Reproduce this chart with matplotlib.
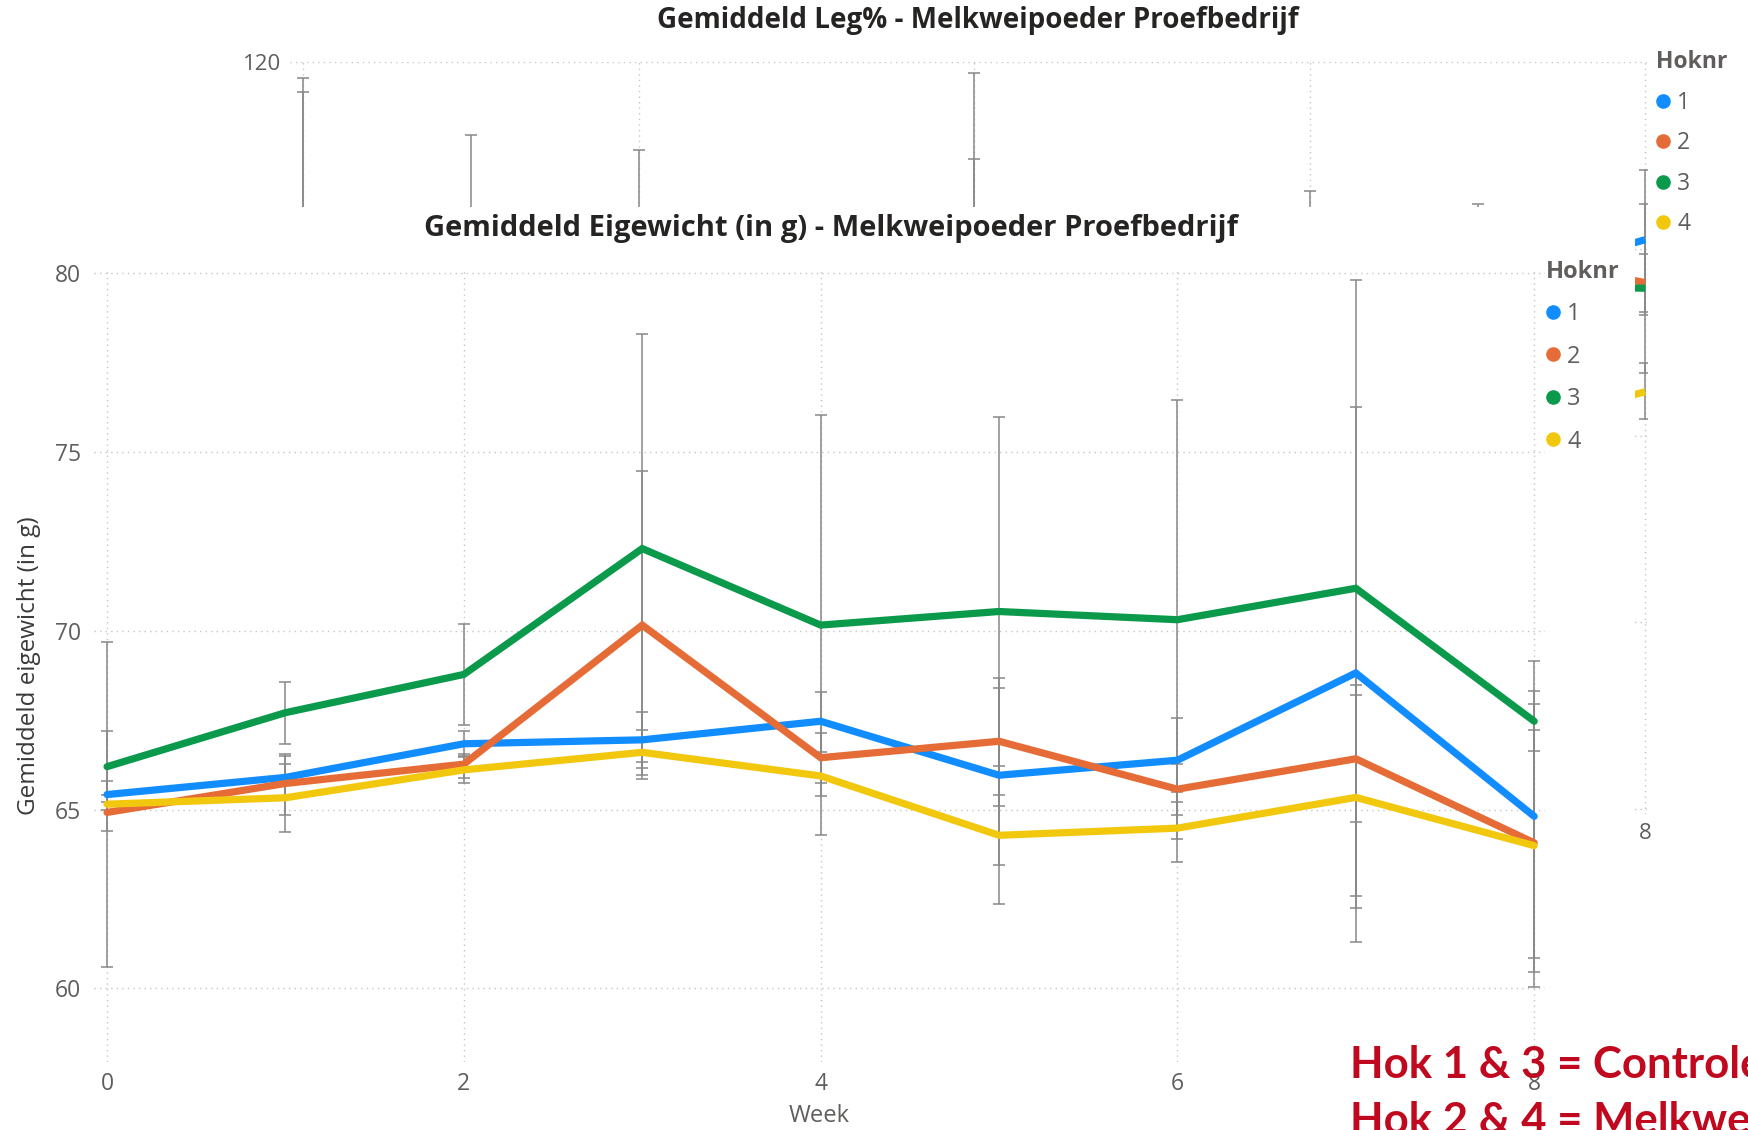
import matplotlib
matplotlib.use("Agg")
import matplotlib.pyplot as plt
from matplotlib.lines import Line2D
import numpy as np

# ---------------- data: main chart (Eigewicht) ----------------
weeks = [0, 1, 2, 3, 4, 5, 6, 7, 8]
series_names = ["1", "2", "3", "4"]
hok1 = [65.42, 65.90, 66.84, 66.95, 67.47, 65.96, 66.38, 68.82, 64.81]
hok2 = [64.92, 65.73, 66.27, 70.16, 66.45, 66.91, 65.57, 66.42, 64.07]
hok3 = [66.20, 67.71, 68.78, 72.30, 70.16, 70.54, 70.31, 71.19, 67.47]
hok4 = [65.15, 65.33, 66.11, 66.60, 65.94, 64.28, 64.48, 65.34, 63.99]

hok1_low = [65.00, 65.30, 66.50, 66.16, 66.61, 63.46, 65.20, 61.30, 60.45]
hok1_up = [65.80, 66.50, 67.20, 67.74, 68.28, 68.67, 67.56, 76.27, 69.16]
hok2_low = [64.40, 64.85, 65.87, 65.85, 65.75, 65.42, 64.84, 64.65, 60.85]
hok2_up = [65.40, 66.55, 66.55, 74.47, 67.15, 68.40, 66.27, 68.21, 67.22]
hok3_low = [65.20, 66.82, 67.36, 66.34, 64.29, 65.10, 64.17, 62.58, 66.63]
hok3_up = [67.20, 68.56, 70.20, 78.30, 76.03, 75.99, 76.45, 79.80, 68.31]
hok4_low = [60.60, 64.38, 65.73, 65.98, 65.37, 62.35, 63.53, 62.25, 60.04]
hok4_up = [69.70, 66.27, 66.48, 67.22, 66.51, 66.21, 65.50, 68.48, 67.94]

y_ticks = [60, 65, 70, 75, 80]
x_ticks = [0, 2, 4, 6, 8]

# ---------------- data: background chart (Leg%), visible parts only ----------------
bg_weeks_end = [7, 8]
bg_hok1 = [96.0, 101.0]
bg_hok2 = [99.7, 96.4]
bg_hok3 = [96.1, 95.8]
bg_hok4 = [80.0, 84.7]
bg_w8_low = [93.3, 92.9, 86.7, 81.8]
bg_w8_up = [108.5, 99.5, 104.8, 87.8]
bg_cap_weeks = [0, 0, 1, 2, 4, 4, 6, 7]
bg_cap_vals = [118.3, 116.8, 112.2, 110.6, 118.9, 109.6, 106.2, 104.8]
bg_y_ticks = [40, 60, 80, 100, 120]

colors = ["#118DFF", "#E66C37", "#0B9A4B", "#F2C80F"]
GRAY_TXT = "#605E5C"
ERR = "#8A8886"
GRID = "#C8C6C4"

W, H = 1568.0, 1013.0
def fx(x): return x / W
def fy(y): return 1 - y / H

fig = plt.figure(figsize=(17.49, 11.30), dpi=100)
fig.patch.set_facecolor("white")
plt.rcParams["font.family"] = ["Open Sans", "DejaVu Sans"]

# ---------------- background chart ----------------
bx0, bx1, by0, by1 = 260, 1476.5, 56, 730
ax_bg = fig.add_axes([fx(bx0), fy(by1), fx(bx1) - fx(bx0), fy(by0) - fy(by1)])
ax_bg.set_xlim(-0.08, 8.01)
ax_bg.set_ylim(39.4, 120)
ax_bg.set_xticks(x_ticks)
ax_bg.set_yticks(bg_y_ticks)
ax_bg.tick_params(length=0, labelsize=16, colors=GRAY_TXT, pad=6)
for s in ax_bg.spines.values():
    s.set_visible(False)
ax_bg.grid(True, ls=(0, (1, 3)), color=GRID, lw=1)
ax_bg.vlines(bg_cap_weeks, 40, bg_cap_vals, color=ERR, lw=1.1, zorder=2)
ax_bg.plot(bg_cap_weeks, bg_cap_vals, ls="none", marker="_", ms=8, mew=1.1, color=ERR, zorder=2)
bg_mid = [bg_hok1[-1], bg_hok2[-1], bg_hok3[-1], bg_hok4[-1]]
for i in range(4):
    ax_bg.errorbar([8], [bg_mid[i]], yerr=[[bg_mid[i] - bg_w8_low[i]], [bg_w8_up[i] - bg_mid[i]]],
                   fmt="none", ecolor=ERR, elinewidth=1.1, capsize=4, capthick=1.1, zorder=2)
for vals, c in zip([bg_hok1, bg_hok2, bg_hok3, bg_hok4], colors):
    ax_bg.plot(bg_weeks_end, vals, color=c, lw=5.2, zorder=3, solid_capstyle="butt")
fig.text(fx(877), fy(18), "Gemiddeld Leg% - Melkweipoeder Proefbedrijf",
         ha="center", va="center", fontsize=20, fontweight="bold", color="#252423")

# ---------------- white cover (the main chart visual) ----------------
ax_cov = fig.add_axes([0, 0, fx(1466), fy(186)])
ax_cov.set_facecolor("white")
ax_cov.set_xticks([]); ax_cov.set_yticks([])
for s in ax_cov.spines.values():
    s.set_visible(False)

# ---------------- main chart ----------------
mx0, mx1, my0, my1 = 84, 1385, 241.8, 952
ax = fig.add_axes([fx(mx0), fy(my1), fx(mx1) - fx(mx0), fy(my0) - fy(my1)])
ax.set_facecolor("none")
ax.set_xlim(-0.075, 8.06)
ax.set_ylim(57.94, 80.1)
ax.set_xticks(x_ticks)
ax.set_yticks(y_ticks)
ax.tick_params(length=0, labelsize=16.5, colors=GRAY_TXT)
ax.tick_params(axis="y", pad=9)
ax.tick_params(axis="x", pad=7)
for s in ax.spines.values():
    s.set_visible(False)
ax.grid(True, ls=(0, (1, 3)), color=GRID, lw=1)
ax.set_axisbelow(True)

means = [hok1, hok2, hok3, hok4]
lows = [hok1_low, hok2_low, hok3_low, hok4_low]
ups = [hok1_up, hok2_up, hok3_up, hok4_up]
for m, lo, up in zip(means, lows, ups):
    m = np.array(m); lo = np.array(lo); up = np.array(up)
    ax.errorbar(weeks, m, yerr=[m - lo, up - m], fmt="none", ecolor=ERR,
                elinewidth=1.1, capsize=4, capthick=1.1, zorder=2)
for m, c, n in zip(means, colors, series_names):
    ax.plot(weeks, m, color=c, lw=5.2, zorder=3, solid_capstyle="round", solid_joinstyle="miter", label=n)

ax.set_xlabel("Week", fontsize=17, color=GRAY_TXT, labelpad=6)
ax.set_ylabel("Gemiddeld eigewicht (in g)", fontsize=17.5, color="#3B3A39", labelpad=10)
fig.text(fx(745), fy(205), "Gemiddeld Eigewicht (in g) - Melkweipoeder Proefbedrijf",
         ha="center", va="center", fontsize=21, fontweight="bold", color="#252423")

# legends
def make_legend(x, y, spacing, size):
    handles = [Line2D([], [], ls="none", marker="o", ms=9.5, color=c) for c in colors]
    leg = fig.legend(handles, series_names, title="Hoknr", loc="upper left",
                     bbox_to_anchor=(fx(x), fy(y)), frameon=False, fontsize=size,
                     title_fontsize=size, labelspacing=spacing, handlelength=0.6,
                     handletextpad=0.3, borderpad=0, borderaxespad=0, labelcolor=GRAY_TXT)
    leg.get_title().set_fontweight("bold")
    leg.get_title().set_color(GRAY_TXT)
    leg._legend_box.align = "left"
    return leg

leg1 = make_legend(1386, 233, 0.78, 17)
leg2 = make_legend(1485, 45, 0.72, 16.5)

# red annotation
ax.text(fx(1210), fy(966), "Hok 1 & 3 = Controle", transform=fig.transFigure, ha="left",
        va="baseline", fontsize=31.5, fontweight="bold", color="#C0091F",
        family=["Lato", "DejaVu Sans"], clip_on=False, zorder=1)
ax.text(fx(1210), fy(1017), "Hok 2 & 4 = Melkweipoeder", transform=fig.transFigure, ha="left",
        va="baseline", fontsize=31.5, fontweight="bold", color="#C0091F",
        family=["Lato", "DejaVu Sans"], clip_on=False, zorder=1)

fig.savefig("out.png", dpi=100, facecolor="white")
